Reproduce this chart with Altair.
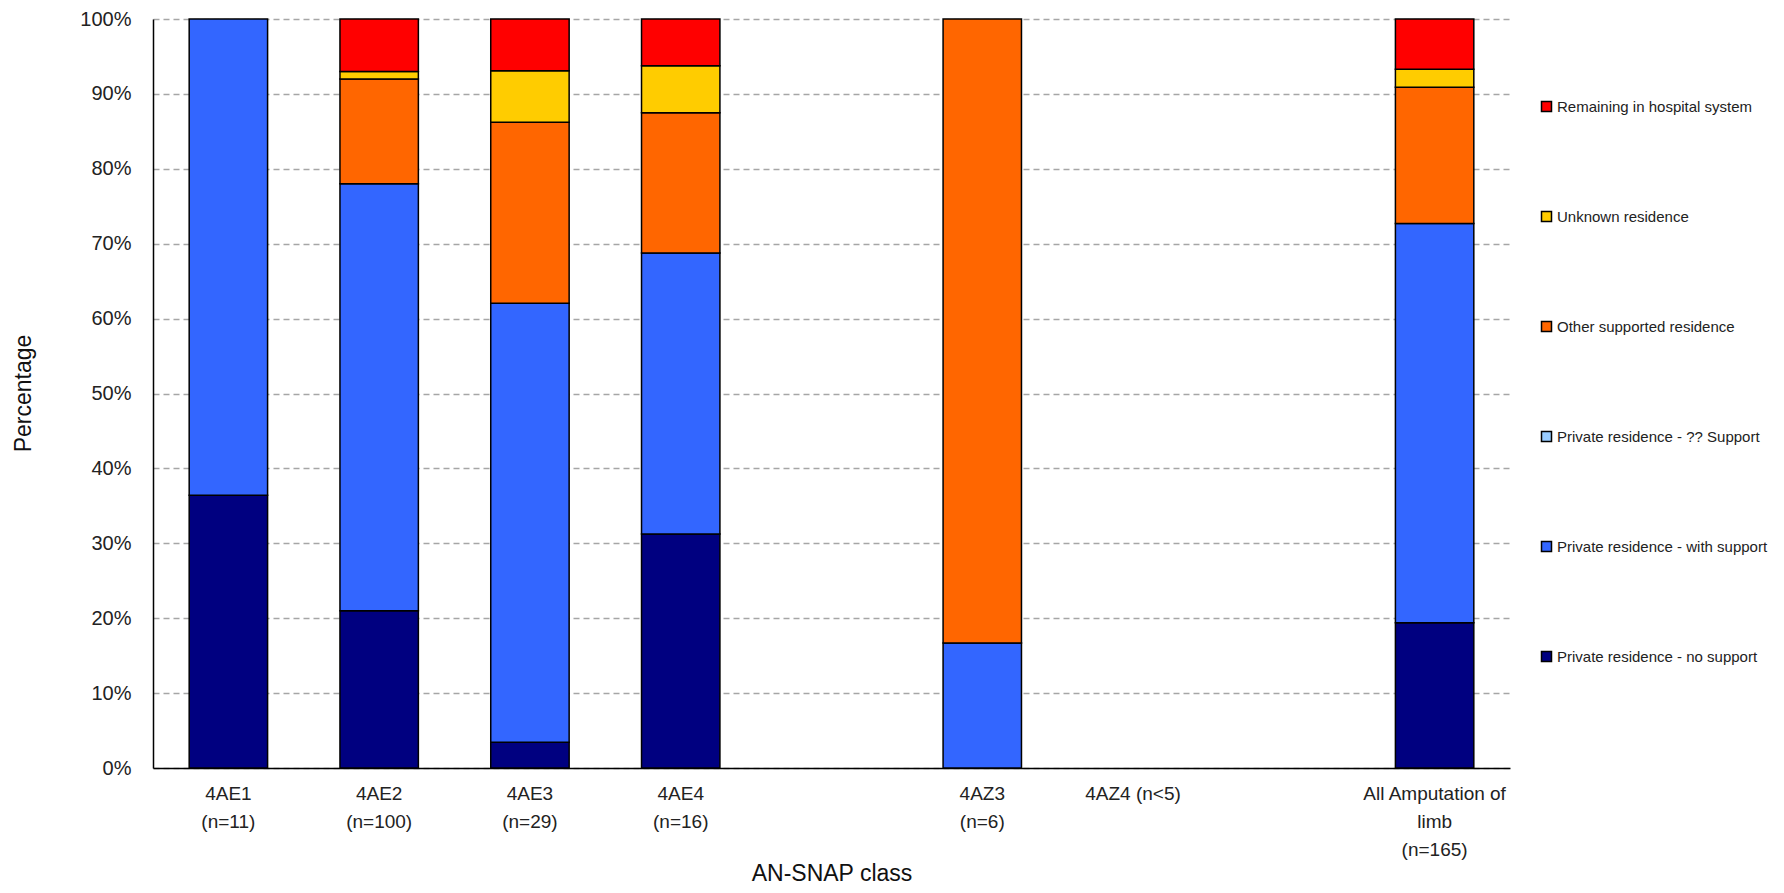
import altair as alt
import pandas as pd

FONT = "Liberation Sans, Arial, sans-serif"

categories = ["4AE1|(n=11)", "4AE2|(n=100)", "4AE3|(n=29)", "4AE4|(n=16)", " ",
              "4AZ3|(n=6)", "4AZ4 (n<5)", "  ", "All Amputation of|limb|(n=165)"]

# stacking order bottom -> top
stack_series = ["Private residence - no support", "Private residence - ?? Support",
                "Private residence - with support", "Other supported residence",
                "Unknown residence", "Remaining in hospital system"]

no_support = [36.4, 21.0, 3.45, 31.25, None, 0, None, None, 19.4]
unk_support = [0, 0, 0, 0, None, 0, None, None, 0]
with_support = [63.6, 57.0, 58.6, 37.5, None, 16.7, None, None, 53.3]
other_supported = [0, 14.0, 24.15, 18.75, None, 83.3, None, None, 18.2]
unknown_res = [0, 1.0, 6.9, 6.25, None, 0, None, None, 2.4]
remaining = [0, 7.0, 6.9, 6.25, None, 0, None, None, 6.7]

series_values = [no_support, unk_support, with_support, other_supported, unknown_res, remaining]

legend_order = ["Remaining in hospital system", "Unknown residence", "Other supported residence",
                "Private residence - ?? Support", "Private residence - with support",
                "Private residence - no support"]
legend_colors = ["#FF0000", "#FFCC00", "#FF6600", "#99CCFF", "#3366FF", "#000080"]

rows = []
for si, (name, vals) in enumerate(zip(stack_series, series_values)):
    for cat, v in zip(categories, vals):
        if v:
            rows.append({"category": cat, "series": name, "value": v, "stack_idx": si})
df = pd.DataFrame(rows)

chart = alt.Chart(df).mark_bar(stroke="black", strokeWidth=1.5).encode(
    x=alt.X("category:N", sort=categories,
            scale=alt.Scale(domain=categories, paddingInner=0.48, paddingOuter=0.24),
            axis=alt.Axis(title="AN-SNAP class", labelExpr="split(datum.label, '|')",
                          labelAngle=0, ticks=False, tickSize=0, labelPadding=16,
                          labelLineHeight=28, labelFontSize=19, labelFont=FONT,
                          labelColor="#222", labelLimit=400,
                          domainColor="black", domainWidth=1.5, grid=False,
                          titleFont=FONT, titleFontSize=23, titleFontWeight="normal",
                          titleColor="#111", titleY=105, titleBaseline="middle")),
    y=alt.Y("value:Q", stack="normalize", scale=alt.Scale(domain=[0, 1]),
            axis=alt.Axis(title="Percentage", format=".0%",
                          values=[i / 10 for i in range(11)],
                          ticks=False, tickSize=0, labelPadding=22,
                          labelFontSize=20, labelFont=FONT, labelColor="#222",
                          domainColor="black", domainWidth=1.5,
                          grid=True, gridColor="#A6A6A6", gridDash=[6, 4], gridWidth=1.5,
                          titleFont=FONT, titleFontSize=23, titleFontWeight="normal",
                          titleColor="#111", titleX=-130, titleY=374,
                          titleBaseline="middle", titleAngle=-90)),
    color=alt.Color("series:N", scale=alt.Scale(domain=legend_order, range=legend_colors),
                    legend=alt.Legend(title=None, orient="none", legendX=1386, legendY=80,
                                      symbolType="square", symbolSize=100,
                                      symbolStrokeColor="black", symbolStrokeWidth=1.5,
                                      symbolOpacity=1, labelFont=FONT, labelFontSize=15,
                                      labelColor="#222", labelOffset=3, rowPadding=93,
                                      labelLimit=300)),
    order=alt.Order("stack_idx:Q"),
).properties(
    width=1357, height=749,
    autosize=alt.AutoSizeParams(type="none"),
    padding={"left": 145, "top": 11, "right": 262, "bottom": 117},
).configure_view(stroke=None)

chart.save("out.html", embed_options={"renderer": "svg", "actions": False})
